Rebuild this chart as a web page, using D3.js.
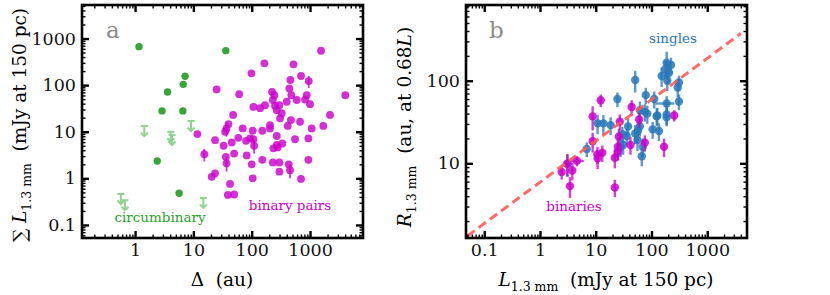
<!DOCTYPE html>
<html>
<head>
<meta charset="utf-8">
<script src="https://cdn.jsdelivr.net/npm/d3@7"></script>
<style>
  body { margin: 0; background: #fff; }
  svg text { font-family: "DejaVu Serif", "Liberation Serif", serif; white-space: pre; }
</style>
</head>
<body>
<div id="chart"></div>
<script>
// ---- panel a : separation vs summed flux ----
const circDelta = [1.17, 36, 7.2, 6.7, 3.6, 2.9, 6.6, 2.4, 5.7];
const circL     = [670, 550, 155, 104, 71, 28, 28, 2.35, 0.48];

// upper limits (circumbinary, non-detections)
const limDelta = [1.44, 4.1, 4.3, 9.1, 0.57, 0.67, 14.8];
const limL     = [13.2, 10, 8.5, 17, 0.46, 0.34, 0.38];

const pairDelta = [165, 521, 99, 701, 460, 950, 1544, 25, 61, 223,
  244, 442, 478, 879, 4030, 230, 591, 1000, 107, 139,
  169, 251, 298, 269, 327, 306, 399, 821, 2203, 48,
  470, 415, 674, 206, 1690, 1069, 40, 37, 35, 70,
  104, 152, 11.7, 23.5, 33, 45.5, 59, 80, 107, 110,
  269, 269, 235, 335, 553, 936, 15.4, 50, 82, 36,
  37, 152, 100, 230, 298, 431, 454, 936, 23.5, 20.6,
  298, 104, 701, 42.5, 39, 50, 279, 94, 206];
const pairL = [294, 279, 179, 157, 129, 122, 547, 81, 64, 72,
  61, 85, 61, 61, 61, 48, 48, 39, 34, 32,
  37, 36, 37, 29, 25, 19.4, 44, 49, 23, 23,
  17.8, 13.3, 16.4, 13.9, 13.3, 11.8, 14.6, 11.8, 10, 11.8,
  10.5, 10.5, 8.9, 6.6, 5.0, 5.9, 7.4, 6.4, 6.9, 5.0,
  8.1, 5.2, 4.4, 5.6, 6.9, 7.2, 3.3, 3.4, 3.1, 2.9,
  2.1, 2.5, 2.0, 2.2, 2.2, 2.0, 1.5, 2.5, 1.28, 1.08,
  1.39, 1.0, 0.97, 0.76, 0.44, 0.45, 4.6, 7.2, 11.8];
const pairLerr = [0, 0, 0, 0, 0, 35, 0, 0, 0, 0,
  0, 0, 0, 0, 0, 0, 0, 0, 0, 0,
  0, 0, 0, 0, 0, 0, 0, 0, 0, 0,
  0, 0, 0, 0, 0, 0, 0, 4, 0, 0,
  0, 0, 0, 0, 0, 0, 0, 0, 0, 1.6,
  0, 0, 0, 0, 0, 0, 1.0, 0, 0, 0,
  0.7, 0, 0, 0, 0, 0, 0.5, 0, 0, 0,
  0, 0, 0, 0, 0, 0, 0, 0, 0];

// ---- panel b : size-luminance ----
const singlesL = [187, 224, 177, 206, 152, 192, 311, 295, 51, 79,
  24.5, 187, 311, 62, 76, 84, 127, 187, 187, 10.8,
  13.7, 18.5, 38, 57, 62, 105, 136, 36, 56, 70,
  28, 6.9, 112, 124, 51, 30, 67, 31, 3.1];
const singlesR = [165, 155, 139, 125, 114, 100, 95, 83, 102, 67,
  60, 53, 56, 44, 42, 40, 38, 39, 36, 30.5,
  30.5, 29, 28, 24.6, 28, 25.8, 24.6, 21.4, 19.1, 15.9,
  15.9, 14.9, 60, 37, 23, 22.6, 12.2, 16.7, 9.9];
const singlesErr = [60, 35, 35, 30, 30, 25, 20, 20, 30, 15,
  12, 12, 12, 12, 10, 10, 9, 10, 8, 8,
  8, 7, 7, 6, 7, 6, 6, 5, 5, 4,
  4, 3, 14, 9, 6, 5, 3, 4, 3];
const singlesLerr = [0, 0, 0, 0, 0, 0, 0, 0, 0, 0,
  0, 70, 0, 0, 0, 0, 0, 0, 0, 0,
  0, 0, 0, 0, 0, 0, 0, 0, 0, 0,
  0, 0, 0, 0, 0, 0, 0, 0, 0];

const binL = [12.3, 44, 8.8, 256, 60, 27, 26, 8.8, 42, 76,
  168, 25, 10.7, 13.1, 10.8, 22, 25, 22, 3.1, 2.45,
  3.8, 4.6, 3.45];
const binR = [58, 48, 37, 38, 34, 32, 21, 18.5, 16.7, 17.8,
  15.9, 15.9, 12.8, 13.4, 11.5, 11.7, 13.8, 5.1, 9.9, 7.85,
  8.2, 10.7, 5.3];
const binErr = [10, 10, 12, 6, 7, 7, 5, 5, 4, 4,
  4, 4, 3, 3, 3, 3, 3, 1.2, 3, 1.5,
  2, 1.5, 1.5];
const binLerr = [0, 0, 0, 0, 0, 0, 0, 0, 0, 0,
  0, 0, 0, 0, 0, 0, 0, 0, 0, 0,
  0, 1.5, 0];

// R = fitNorm * L^fitSlope
const fitNorm = 5.9, fitSlope = 0.5, fitRange = [0.05, 4000];

const W = 830, H = 295;
const yTop = 5, yBot = 238;
const green = "#2ca02c", limGreen = "#8fd38f";
const magenta = "#cc00cc", blue = "#2878b8", red = "#ff5a5a";
const tickFont = 17.5, titleFont = 18.5, subFont = 12.5, noteFont = 13.5;

const svg = d3.select("#chart").append("svg")
  .attr("width", W).attr("height", H);

function zip(a, b, c, d) {
  return a.map((v, i) => ({x: v, y: b[i], e: c ? c[i] : 0, ex: d ? d[i] : 0}));
}

function decadeTicks(scale) {
  const [a, b] = scale.domain();
  const major = [], minor = [];
  for (let k = Math.floor(Math.log10(a)); k <= Math.ceil(Math.log10(b)); k++) {
    const p = Math.pow(10, k);
    if (p >= a && p <= b) major.push(p);
    for (let m = 2; m <= 9; m++) {
      const v = m * p;
      if (v >= a && v <= b) minor.push(v);
    }
  }
  return {major, minor};
}

function fmt(v) { return v < 1 ? String(+v.toFixed(1)) : String(Math.round(v)); }

function drawFrame(g, x, y, xLabels, yLabels) {
  const x0 = x.range()[0], x1 = x.range()[1];
  const xt = decadeTicks(x), yt = decadeTicks(y);

  const sides = [
    {ax: d3.axisBottom(x), tr: `translate(0,${yBot})`, t: xt, lab: xLabels},
    {ax: d3.axisTop(x), tr: `translate(0,${yTop})`, t: xt, lab: null},
    {ax: d3.axisLeft(y), tr: `translate(${x0},0)`, t: yt, lab: yLabels},
    {ax: d3.axisRight(y), tr: `translate(${x1},0)`, t: yt, lab: null}
  ];
  sides.forEach(s => {
    // minor ticks
    g.append("g").attr("transform", s.tr)
      .call(s.ax.tickValues(s.t.minor).tickSize(-3.5).tickFormat(""))
      .call(a => a.select(".domain").remove())
      .call(a => a.selectAll("line").attr("stroke-width", 1.4));
    // major ticks
    const gm = g.append("g").attr("transform", s.tr)
      .call(s.ax.tickValues(s.t.major).tickSize(-7).tickPadding(6)
        .tickFormat(d => (s.lab && s.lab.includes(d)) ? fmt(d) : ""))
      .call(a => a.select(".domain").remove())
      .call(a => a.selectAll("line").attr("stroke-width", 2.4));
    gm.attr("font-family", null);
    gm.selectAll("text")
      .attr("font-size", tickFont)
      .attr("fill", "#111");
  });

  g.append("rect")
    .attr("x", x0).attr("y", yTop)
    .attr("width", x1 - x0).attr("height", yBot - yTop)
    .attr("fill", "none").attr("stroke", "#000").attr("stroke-width", 2.6);
}

// ================= panel a =================
const xA = d3.scaleLog().domain([0.123, 8100]).range([82, 363]);
const yA = d3.scaleLog().domain([0.0525, 5240]).range([yBot, yTop]);
const gA = svg.append("g");

gA.append("text").attr("x", 106).attr("y", 38)
  .attr("font-size", 23).attr("fill", "#8c8c8c").text("a");

// upper limit arrows
gA.append("g").selectAll("path")
  .data(zip(limDelta, limL))
  .join("path")
  .attr("d", d => {
    const px = xA(d.x), py = yA(d.y);
    return `M${px - 3.5},${py}H${px + 3.5}M${px},${py}V${py + 10}` +
      `M${px - 3.5},${py + 6.5}L${px},${py + 10}L${px + 3.5},${py + 6.5}`;
  })
  .attr("fill", "none").attr("stroke", limGreen).attr("stroke-width", 2);

gA.append("g").selectAll("circle")
  .data(zip(circDelta, circL))
  .join("circle")
  .attr("cx", d => xA(d.x)).attr("cy", d => yA(d.y)).attr("r", 3.7)
  .attr("fill", green).attr("opacity", 0.95);

const pairs = zip(pairDelta, pairL, pairLerr);
gA.append("g").selectAll("line")
  .data(pairs.filter(d => d.e > 0))
  .join("line")
  .attr("x1", d => xA(d.x)).attr("x2", d => xA(d.x))
  .attr("y1", d => yA(d.y + d.e)).attr("y2", d => yA(d.y - d.e))
  .attr("stroke", magenta).attr("stroke-width", 1.8).attr("opacity", 0.8);
gA.append("g").selectAll("circle")
  .data(pairs)
  .join("circle")
  .attr("cx", d => xA(d.x)).attr("cy", d => yA(d.y)).attr("r", 3.9)
  .attr("fill", magenta).attr("opacity", 0.82);

gA.append("text").attr("x", 160).attr("y", 222).attr("text-anchor", "middle")
  .attr("font-size", noteFont).attr("fill", green).text("circumbinary");
gA.append("text").attr("x", 290).attr("y", 210).attr("text-anchor", "middle")
  .attr("font-size", noteFont).attr("fill", magenta).text("binary pairs");

drawFrame(gA, xA, yA, [1, 10, 100, 1000], [0.1, 1, 10, 100, 1000]);

// axis titles
gA.append("text").attr("x", 222).attr("y", 286).attr("text-anchor", "middle")
  .attr("font-size", titleFont).text("Δ  (au)");
const ylabA = gA.append("text")
  .attr("transform", "translate(26,125) rotate(-90)")
  .attr("text-anchor", "middle").attr("font-size", titleFont);
ylabA.append("tspan").text("∑ ");
ylabA.append("tspan").attr("font-style", "italic").text("L");
ylabA.append("tspan").attr("font-size", subFont).attr("dy", 5).text("1.3 mm");
ylabA.append("tspan").attr("dy", -5).text("  (mJy at 150 pc)");

// ================= panel b =================
const xB = d3.scaleLog().domain([0.0471, 5164]).range([466, 747]);
const yB = d3.scaleLog().domain([1.247, 826]).range([yBot, yTop]);
const gB = svg.append("g");

svg.append("clipPath").attr("id", "clipB")
  .append("rect").attr("x", 466).attr("y", yTop).attr("width", 281).attr("height", yBot - yTop);

gB.append("text").attr("x", 489).attr("y", 38)
  .attr("font-size", 23).attr("fill", "#8c8c8c").text("b");

function errPoints(g, data, col) {
  g.append("g").selectAll("line")
    .data(data)
    .join("line")
    .attr("x1", d => xB(d.x)).attr("x2", d => xB(d.x))
    .attr("y1", d => yB(d.y + d.e)).attr("y2", d => yB(Math.max(d.y - d.e, 1.3)))
    .attr("stroke", col).attr("stroke-width", 2.4).attr("opacity", 0.75);
  g.append("g").selectAll("line")
    .data(data.filter(d => d.ex > 0))
    .join("line")
    .attr("x1", d => xB(d.x - d.ex)).attr("x2", d => xB(d.x + d.ex))
    .attr("y1", d => yB(d.y)).attr("y2", d => yB(d.y))
    .attr("stroke", col).attr("stroke-width", 2.4).attr("opacity", 0.75);
  g.append("g").selectAll("circle")
    .data(data)
    .join("circle")
    .attr("cx", d => xB(d.x)).attr("cy", d => yB(d.y)).attr("r", 4.2)
    .attr("fill", col).attr("opacity", 0.85);
}

const pB = gB.append("g").attr("clip-path", "url(#clipB)");
errPoints(pB, zip(singlesL, singlesR, singlesErr, singlesLerr), blue);
errPoints(pB, zip(binL, binR, binErr, binLerr), magenta);

pB.append("path")
  .datum(fitRange)
  .attr("d", d3.line().x(d => xB(d)).y(d => yB(fitNorm * Math.pow(d, fitSlope))))
  .attr("fill", "none").attr("stroke", red).attr("stroke-width", 3)
  .attr("stroke-dasharray", "9,5").attr("opacity", 0.9);

gB.append("text").attr("x", 673).attr("y", 43).attr("text-anchor", "middle")
  .attr("font-size", noteFont).attr("fill", blue).text("singles");
gB.append("text").attr("x", 574).attr("y", 211).attr("text-anchor", "middle")
  .attr("font-size", noteFont).attr("fill", magenta).text("binaries");

drawFrame(gB, xB, yB, [0.1, 1, 10, 100, 1000], [10, 100]);

const xlabB = gB.append("text").attr("x", 606).attr("y", 286)
  .attr("text-anchor", "middle").attr("font-size", titleFont);
xlabB.append("tspan").attr("font-style", "italic").text("L");
xlabB.append("tspan").attr("font-size", subFont).attr("dy", 5).text("1.3 mm");
xlabB.append("tspan").attr("dy", -5).text("  (mJy at 150 pc)");

const ylabB = gB.append("text")
  .attr("transform", "translate(411,127) rotate(-90)")
  .attr("text-anchor", "middle").attr("font-size", titleFont);
ylabB.append("tspan").attr("font-style", "italic").text("R");
ylabB.append("tspan").attr("font-size", subFont).attr("dy", 5).text("1.3 mm");
ylabB.append("tspan").attr("dy", -5).text("  (au, at 0.68");
ylabB.append("tspan").attr("font-style", "italic").text("L");
ylabB.append("tspan").text(")");
</script>
</body>
</html>
